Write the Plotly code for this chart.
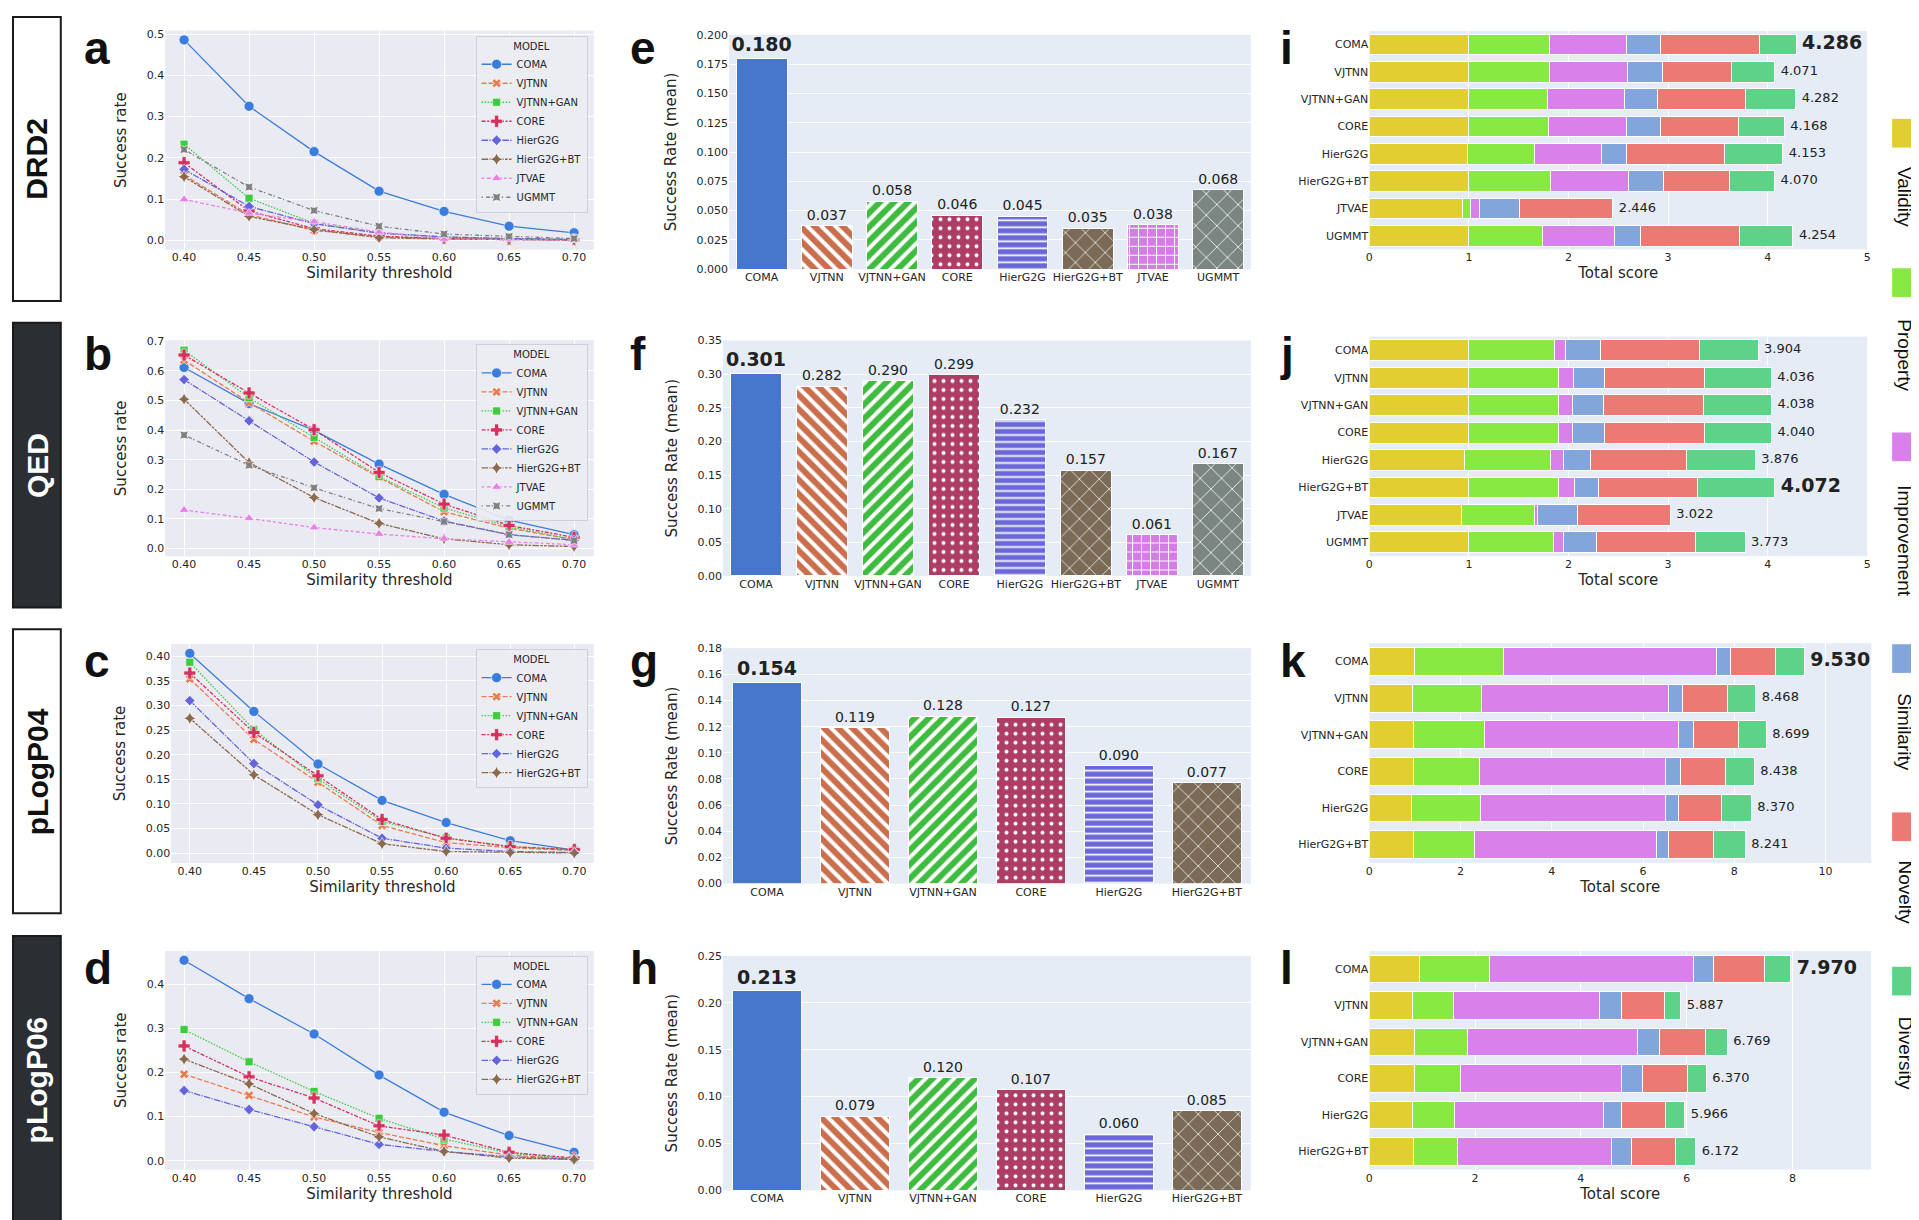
import plotly.graph_objects as go

W, H = 1919, 1220

thresholds = [0.40, 0.45, 0.50, 0.55, 0.60, 0.65, 0.70]
models = ["COMA", "VJTNN", "VJTNN+GAN", "CORE", "HierG2G", "HierG2G+BT", "JTVAE", "UGMMT"]
models_logp = models[:6]
components = ["Validity", "Property", "Improvement", "Similarity", "Novelty", "Diversity"]

# success rate vs similarity threshold
drd2_coma = [0.486, 0.325, 0.215, 0.119, 0.070, 0.034, 0.018]
drd2_vjtnn = [0.158, 0.062, 0.024, 0.008, 0.004, 0.002, 0.001]
drd2_vjtnn_gan = [0.233, 0.102, 0.041, 0.018, 0.008, 0.004, 0.002]
drd2_core = [0.188, 0.071, 0.028, 0.010, 0.004, 0.002, 0.001]
drd2_hierg2g = [0.172, 0.082, 0.040, 0.017, 0.008, 0.004, 0.002]
drd2_hierg2g_bt = [0.154, 0.058, 0.026, 0.006, 0.003, 0.001, 0.000]
drd2_jtvae = [0.099, 0.066, 0.045, 0.020, 0.003, 0.002, 0.000]
drd2_ugmmt = [0.220, 0.129, 0.072, 0.034, 0.015, 0.009, 0.004]

qed_coma = [0.611, 0.489, 0.399, 0.285, 0.183, 0.096, 0.047]
qed_vjtnn = [0.636, 0.492, 0.362, 0.240, 0.124, 0.069, 0.030]
qed_vjtnn_gan = [0.669, 0.509, 0.375, 0.243, 0.137, 0.074, 0.030]
qed_core = [0.653, 0.525, 0.401, 0.257, 0.150, 0.078, 0.038]
qed_hierg2g = [0.570, 0.431, 0.292, 0.171, 0.093, 0.047, 0.028]
qed_hierg2g_bt = [0.504, 0.290, 0.172, 0.085, 0.033, 0.013, 0.007]
qed_jtvae = [0.130, 0.102, 0.071, 0.049, 0.033, 0.022, 0.013]
qed_ugmmt = [0.383, 0.281, 0.205, 0.135, 0.091, 0.047, 0.027]

logp04_coma = [0.406, 0.288, 0.181, 0.107, 0.062, 0.025, 0.006]
logp04_vjtnn = [0.354, 0.231, 0.144, 0.056, 0.021, 0.011, 0.005]
logp04_vjtnn_gan = [0.388, 0.251, 0.151, 0.064, 0.031, 0.013, 0.006]
logp04_core = [0.366, 0.245, 0.157, 0.068, 0.030, 0.013, 0.007]
logp04_hierg2g = [0.310, 0.182, 0.098, 0.030, 0.010, 0.003, 0.001]
logp04_hierg2g_bt = [0.274, 0.159, 0.078, 0.019, 0.003, 0.001, 0.000]

logp06_coma = [0.454, 0.367, 0.287, 0.194, 0.110, 0.057, 0.019]
logp06_vjtnn = [0.196, 0.148, 0.099, 0.064, 0.034, 0.013, 0.003]
logp06_vjtnn_gan = [0.297, 0.224, 0.157, 0.096, 0.049, 0.017, 0.004]
logp06_core = [0.260, 0.190, 0.142, 0.079, 0.058, 0.019, 0.006]
logp06_hierg2g = [0.159, 0.116, 0.077, 0.037, 0.021, 0.009, 0.003]
logp06_hierg2g_bt = [0.230, 0.174, 0.107, 0.054, 0.021, 0.006, 0.003]

# mean success rate
drd2_mean = [0.180, 0.037, 0.058, 0.046, 0.045, 0.035, 0.038, 0.068]
qed_mean = [0.301, 0.282, 0.290, 0.299, 0.232, 0.157, 0.061, 0.167]
logp04_mean = [0.154, 0.119, 0.128, 0.127, 0.090, 0.077]
logp06_mean = [0.213, 0.079, 0.120, 0.107, 0.060, 0.085]

# total score components
drd2_validity = [1.000, 1.000, 1.000, 1.000, 0.983, 1.000, 0.933, 1.000]
drd2_property = [0.811, 0.811, 0.786, 0.798, 0.677, 0.815, 0.088, 0.735]
drd2_improvement = [0.773, 0.786, 0.777, 0.786, 0.672, 0.790, 0.084, 0.723]
drd2_similarity = [0.336, 0.344, 0.328, 0.345, 0.252, 0.345, 0.399, 0.265]
drd2_novelty = [0.996, 0.693, 0.882, 0.781, 0.979, 0.663, 0.942, 0.995]
drd2_diversity = [0.370, 0.437, 0.509, 0.458, 0.590, 0.457, 0.000, 0.536]

qed_validity = [1.000, 1.000, 1.000, 1.000, 0.954, 1.000, 0.924, 1.000]
qed_property = [0.861, 0.899, 0.895, 0.895, 0.865, 0.903, 0.736, 0.849]
qed_improvement = [0.114, 0.151, 0.147, 0.147, 0.135, 0.156, 0.033, 0.096]
qed_similarity = [0.344, 0.311, 0.311, 0.319, 0.264, 0.239, 0.399, 0.337]
qed_novelty = [1.000, 1.000, 1.000, 1.000, 0.967, 1.000, 0.930, 0.995]
qed_diversity = [0.585, 0.675, 0.685, 0.679, 0.691, 0.774, 0.000, 0.496]

logp04_validity = [0.983, 0.955, 0.973, 0.964, 0.927, 0.964]
logp04_property = [1.956, 1.506, 1.543, 1.442, 1.516, 1.350]
logp04_improvement = [4.664, 4.095, 4.261, 4.086, 4.058, 3.985]
logp04_similarity = [0.313, 0.313, 0.321, 0.331, 0.276, 0.267]
logp04_novelty = [0.982, 0.982, 0.992, 0.992, 0.946, 0.982]
logp04_diversity = [0.632, 0.617, 0.609, 0.623, 0.647, 0.693]

logp06_validity = [0.943, 0.816, 0.863, 0.848, 0.816, 0.832]
logp06_property = [1.322, 0.768, 0.998, 0.879, 0.792, 0.839]
logp06_improvement = [3.858, 2.772, 3.216, 3.033, 2.828, 2.899]
logp06_similarity = [0.388, 0.404, 0.404, 0.396, 0.340, 0.380]
logp06_novelty = [0.958, 0.824, 0.879, 0.856, 0.824, 0.848]
logp06_diversity = [0.501, 0.303, 0.409, 0.358, 0.366, 0.374]

task_names = ["DRD2", "QED", "pLogP04", "pLogP06"]
panel_letters = ["a", "b", "c", "d", "e", "f", "g", "h", "i", "j", "k", "l"]

line_style = {
    "COMA": ("#3b7ddd", "solid", "circle", 10),
    "VJTNN": ("#e97b4f", "5px,2px", "x", 8),
    "VJTNN+GAN": ("#3fcb3f", "1.5px,1.5px", "square", 8),
    "CORE": ("#d6305f", "4px,1.6px,2px,1.6px", "cross", 10),
    "HierG2G": ("#6464dc", "6.5px,1.3px,1.3px,1.3px", "diamond", 8),
    "HierG2G+BT": ("#8c6a4f", "6.5px,1.3px,2.6px,1.3px,2.6px,1.3px", "star-diamond", 9),
    "JTVAE": ("#e880e8", "2.6px,2.6px,4px,2px", "triangle-up", 9),
    "UGMMT": ("#808080", "1.3px,3.2px,4px,1.6px", "star-square", 8),
}
bar_style = {
    "COMA": ("#4677cc", "", 8, 0.3),
    "VJTNN": ("#c96f4e", "\\", 10, 0.4),
    "VJTNN+GAN": ("#3fbc3f", "/", 10, 0.4),
    "CORE": ("#ae3d66", ".", 9, 0.15),
    "HierG2G": ("#6a67d8", "-", 7, 0.25),
    "HierG2G+BT": ("#7a6a56", "x", 14, 0.1),
    "JTVAE": ("#d47de4", "+", 9, 0.2),
    "UGMMT": ("#7b8683", "x", 15, 0.1),
}
stack_color = {
    "Validity": "#e0cf2e",
    "Property": "#87e942",
    "Improvement": "#d980eb",
    "Similarity": "#82a6db",
    "Novelty": "#eb7b72",
    "Diversity": "#5cd387",
}

FONT = "DejaVu Sans"
TXT = "#262626"


def xdom(left, right):
    return [left / W, right / W]


def ydom(top, bottom):
    return [1 - bottom / H, 1 - top / H]


fig = go.Figure()
layout = {}


def axname(n):
    return "" if n == 1 else str(n)


def add_line_panel(n, series, box, yrange, dtick, fmt, legend_name, legend_top):
    a = axname(n)
    for name, values in series:
        color, dash, symbol, size = line_style[name]
        fig.add_trace(go.Scatter(
            x=thresholds, y=values, name=name, mode="lines+markers",
            line=dict(color=color, width=1.3, dash=dash),
            marker=dict(symbol=symbol, size=size, color=color,
                        line=dict(color="white", width=0.6)),
            xaxis="x" + a, yaxis="y" + a, legend=legend_name))
    layout["xaxis" + a] = dict(
        domain=xdom(box[0], box[1]), anchor="y" + a, range=[0.3856, 0.715],
        tick0=0.4, dtick=0.05, tickformat=".2f", showgrid=True, gridcolor="white",
        gridwidth=1, zeroline=False, ticks="", tickfont=dict(size=11, color=TXT),
        title=dict(text="Similarity threshold", font=dict(size=15, color=TXT), standoff=4))
    layout["yaxis" + a] = dict(
        domain=ydom(box[2], box[3]), anchor="x" + a, range=yrange, tick0=0, dtick=dtick,
        tickformat=fmt, showgrid=True, gridcolor="white", gridwidth=1, zeroline=False,
        ticks="", tickfont=dict(size=11, color=TXT),
        title=dict(text="Success rate", font=dict(size=15, color=TXT), standoff=16))
    layout[legend_name] = dict(
        x=578 / W, xanchor="right", y=1 - legend_top / H, yanchor="top",
        traceorder="normal",
        bgcolor="rgba(236,236,243,0.9)", bordercolor="#cfcfd8", borderwidth=1,
        font=dict(size=10, color=TXT), tracegroupgap=0, itemwidth=30,
        title=dict(text="MODEL", side="top center", font=dict(size=10, color=TXT)))


def add_bar_panel(n, names, values, box, top, dtick, fmt):
    a = axname(n)
    best = values.index(max(values))
    for i, (m, v) in enumerate(zip(names, values)):
        color, shape, psize, solid = bar_style[m]
        fig.add_trace(go.Bar(
            x=[m], y=[v], width=0.78, name=m,
            marker=dict(color=color, line=dict(color="white", width=1),
                        pattern=dict(shape=shape, size=psize, solidity=solid,
                                     fgcolor="white", fgopacity=1, fillmode="overlay")),
            text=["<b>%.3f</b>" % v if i == best else "%.3f" % v],
            textposition="outside",
            textfont=dict(size=19 if i == best else 14, color="#222"),
            constraintext="none", cliponaxis=False, showlegend=False,
            xaxis="x" + a, yaxis="y" + a))
    layout["xaxis" + a] = dict(
        domain=xdom(box[0], box[1]), anchor="y" + a, type="category",
        categoryorder="array", categoryarray=names, showgrid=False,
        zeroline=False, ticks="", tickfont=dict(size=11, color=TXT))
    layout["yaxis" + a] = dict(
        domain=ydom(box[2], box[3]), anchor="x" + a, range=[0, top], tick0=0, dtick=dtick,
        tickformat=fmt, showgrid=True, gridcolor="white", gridwidth=1, zeroline=False,
        ticks="", tickfont=dict(size=11, color=TXT),
        title=dict(text="Success Rate (mean)", font=dict(size=15, color=TXT), standoff=16))


def add_stack_panel(n, names, parts, box, xmax, dtick):
    a = axname(n)
    for comp, vals in zip(components, parts):
        fig.add_trace(go.Bar(
            y=names, x=vals, orientation="h", width=0.76, name=comp,
            marker=dict(color=stack_color[comp], line=dict(color="white", width=1)),
            showlegend=False, xaxis="x" + a, yaxis="y" + a))
    totals = [sum(col) for col in zip(*parts)]
    best = totals.index(max(totals))
    texts = ["<b>%.3f</b>" % t if i == best else "%.3f" % t for i, t in enumerate(totals)]
    sizes = [19 if i == best else 13 for i in range(len(totals))]
    gap = xmax * 0.012
    fig.add_trace(go.Scatter(
        x=[t + gap for t in totals], y=names, mode="text", text=texts,
        textposition="middle right",
        textfont=dict(size=sizes, color="#222"), cliponaxis=False, showlegend=False,
        xaxis="x" + a, yaxis="y" + a))
    layout["xaxis" + a] = dict(
        domain=xdom(box[0], box[1]), anchor="y" + a, range=[0, xmax], tick0=0, dtick=dtick,
        showgrid=True, gridcolor="white", gridwidth=1, zeroline=False, ticks="",
        tickfont=dict(size=11, color=TXT),
        title=dict(text="Total score", font=dict(size=15, color=TXT), standoff=4))
    layout["yaxis" + a] = dict(
        domain=ydom(box[2], box[3]), anchor="x" + a, type="category", autorange="reversed",
        showgrid=False, zeroline=False, ticks="", tickfont=dict(size=11, color=TXT))


add_line_panel(1, list(zip(models, [drd2_coma, drd2_vjtnn, drd2_vjtnn_gan, drd2_core,
                                    drd2_hierg2g, drd2_hierg2g_bt, drd2_jtvae, drd2_ugmmt])),
               (154, 584, 17, 238), [-0.0224, 0.508], 0.1, ".1f", "legend", 22)
add_line_panel(2, list(zip(models, [qed_coma, qed_vjtnn, qed_vjtnn_gan, qed_core,
                                    qed_hierg2g, qed_hierg2g_bt, qed_jtvae, qed_ugmmt])),
               (154, 584, 330, 548), [-0.0255, 0.702], 0.1, ".1f", "legend2", 334)
add_line_panel(3, list(zip(models_logp, [logp04_coma, logp04_vjtnn, logp04_vjtnn_gan, logp04_core,
                                         logp04_hierg2g, logp04_hierg2g_bt])),
               (160, 584, 637, 858), [-0.020, 0.4247], 0.05, ".2f", "legend3", 642)
add_line_panel(4, list(zip(models_logp, [logp06_coma, logp06_vjtnn, logp06_vjtnn_gan, logp06_core,
                                         logp06_hierg2g, logp06_hierg2g_bt])),
               (154, 584, 947, 1168), [-0.020, 0.4752], 0.1, ".1f", "legend4", 952)

add_bar_panel(5, models, drd2_mean, (720, 1244, 21, 258), 0.2, 0.025, ".3f")
add_bar_panel(6, models, qed_mean, (714, 1244, 330, 568), 0.35, 0.05, ".2f")
add_bar_panel(7, models_logp, logp04_mean, (714, 1244, 641, 879), 0.18, 0.02, ".2f")
add_bar_panel(8, models_logp, logp06_mean, (714, 1244, 952, 1189), 0.25, 0.05, ".2f")

add_stack_panel(9, models, [drd2_validity, drd2_property, drd2_improvement, drd2_similarity,
                            drd2_novelty, drd2_diversity], (1363, 1863, 17, 238), 5, 1)
add_stack_panel(10, models, [qed_validity, qed_property, qed_improvement, qed_similarity,
                             qed_novelty, qed_diversity], (1363, 1863, 326, 548), 5, 1)
add_stack_panel(11, models_logp, [logp04_validity, logp04_property, logp04_improvement,
                                  logp04_similarity, logp04_novelty, logp04_diversity],
                (1363, 1867, 636, 858), 11, 2)
add_stack_panel(12, models_logp, [logp06_validity, logp06_property, logp06_improvement,
                                  logp06_similarity, logp06_novelty, logp06_diversity],
                (1363, 1867, 947, 1168), 9.49, 2)

shapes = []
annotations = []

# seaborn-style background for the line panels
for n in range(1, 5):
    a = axname(n)
    shapes.append(dict(type="rect", xref="x%s domain" % a, yref="y%s domain" % a,
                       x0=0, x1=1, y0=0, y1=1, fillcolor="#eaeaf2", line_width=0,
                       layer="below"))

# row label boxes
row_boxes = [(3, 290), (312, 600), (622, 909), (932, 1222)]
for i, (task, (top, bottom)) in enumerate(zip(task_names, row_boxes)):
    dark = i % 2 == 1
    shapes.append(dict(type="rect", xref="paper", yref="paper", x0=1 / W, x1=49 / W,
                       y0=1 - bottom / H, y1=1 - top / H,
                       fillcolor="#2b2f33" if dark else "white",
                       line=dict(color="#1a1a1a", width=2)))
    annotations.append(dict(xref="paper", yref="paper", x=25 / W, y=1 - (top + bottom) / 2 / H,
                            xanchor="center", yanchor="middle",
                            text=task, textangle=-90, showarrow=False,
                            font=dict(family="Liberation Sans", size=30, weight="bold",
                                      color="white" if dark else "#111")))

# panel letters
baselines = [50, 360, 670, 980]
letter_x = [70, 619, 1271]
for col in range(3):
    for row in range(4):
        annotations.append(dict(xref="paper", yref="paper", x=letter_x[col] / W,
                                y=1 - (baselines[row] - 16) / H, xanchor="left",
                                yanchor="middle", text=panel_letters[col * 4 + row],
                                showarrow=False,
                                font=dict(family="Liberation Sans", size=46, weight="bold",
                                          color="#111")))

# component key on the right
key_squares = [106, 257, 423, 637, 807, 963]
key_text = [185, 345, 533, 726, 888, 1050]
for comp, sq, tc in zip(components, key_squares, key_text):
    shapes.append(dict(type="rect", xref="paper", yref="paper", x0=1888 / W, x1=1917 / W,
                       y0=1 - (sq + 29) / H, y1=1 - sq / H, fillcolor=stack_color[comp],
                       line_width=0))
    annotations.append(dict(xref="paper", yref="paper", x=1901 / W, y=1 - tc / H,
                            xanchor="center", yanchor="middle",
                            text=comp, textangle=90, showarrow=False,
                            font=dict(family="Liberation Sans", size=19, color="#111")))

fig.update_layout(
    width=W, height=H, autosize=False, margin=dict(l=0, r=0, t=0, b=0),
    paper_bgcolor="white", plot_bgcolor="#e5ecf6",
    font=dict(family=FONT, color=TXT), barmode="stack",
    shapes=shapes, annotations=annotations, **layout)

fig.write_html("out.html")
